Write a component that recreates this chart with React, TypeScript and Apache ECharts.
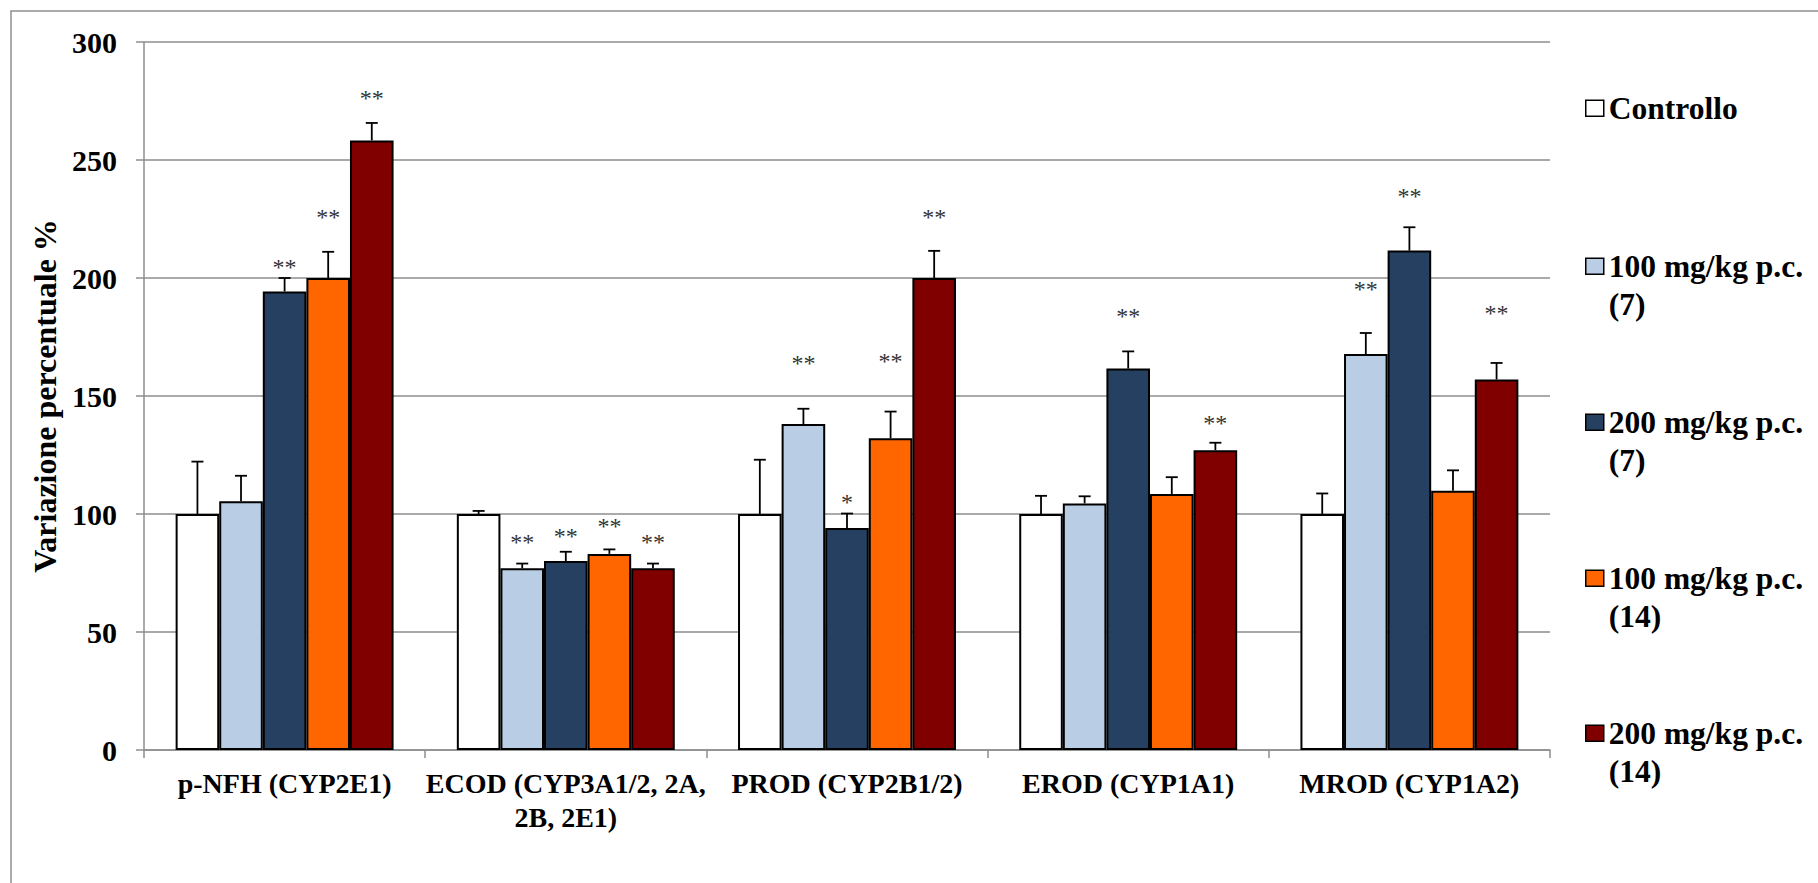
import React, { useEffect, useRef } from 'react';
import * as echarts from 'echarts';

const categories = [
  'p-NFH (CYP2E1)',
  'ECOD (CYP3A1/2, 2A,\n2B, 2E1)',
  'PROD (CYP2B1/2)',
  'EROD (CYP1A1)',
  'MROD (CYP1A2)',
];

const seriesNames = [
  'Controllo',
  '100 mg/kg p.c.\n(7)',
  '200 mg/kg p.c.\n(7)',
  '100 mg/kg p.c.\n(14)',
  '200 mg/kg p.c.\n(14)',
];
const seriesColors = ['#FFFFFF', '#B9CDE5', '#254061', '#FF6600', '#800000'];

const controllo = [100, 100, 100, 100, 100];
const dose100d7 = [105.4, 77, 138.1, 104.5, 167.8];
const dose200d7 = [194.3, 80.1, 94.1, 161.6, 211.6];
const dose100d14 = [200, 83.1, 132.1, 108.5, 109.8];
const dose200d14 = [258.3, 77, 200, 127, 157];

const errControllo = [22.2, 1.3, 23, 7.7, 8.7];
const err100d7 = [10.8, 2, 6.5, 3, 8.9];
const err200d7 = [5.7, 3.9, 6.1, 7.3, 9.9];
const err100d14 = [11.1, 1.9, 11.3, 7.1, 8.7];
const err200d14 = [7.4, 2, 11.5, 3.2, 7];

// significance marks: category index, series index, mark, height (in % units)
const sigCategory = [0, 0, 0, 1, 1, 1, 1, 2, 2, 2, 2, 3, 3, 4, 4, 4];
const sigSeries = [2, 3, 4, 1, 2, 3, 4, 1, 2, 3, 4, 2, 4, 1, 2, 4];
const sigText = ['**', '**', '**', '**', '**', '**', '**', '**', '*', '**', '**', '**', '**', '**', '**', '**'];
const sigLevel = [206.5, 227.7, 278, 89.8, 92.2, 96.4, 90, 165.7, 106.8, 166.7, 227.7, 185.8, 140.2, 196.9, 236.6, 187];

const yMin = 0;
const yMax = 300;
const yInterval = 50;

const values = [controllo, dose100d7, dose200d7, dose100d14, dose200d14];
const errors = [errControllo, err100d7, err200d7, err100d14, err200d14];

const CAT_GAP = 0.225;
const FONT = "'Liberation Serif', 'Times New Roman', Times, serif";
const GRID_GRAY = '#8e8e8e';

// legend placement (icon-centre y for each entry)
const legendIconY = [105, 263, 419, 575, 730];
const LEGEND_FONT = 31.5;
const LEGEND_LINE = 38;

export default function App() {
  const ref = useRef<HTMLDivElement>(null);

  useEffect(() => {
    if (!ref.current) return;
    const chart = echarts.init(ref.current, null, { renderer: 'svg' });

    const barSeries = seriesNames.map((name, s) => ({
      name,
      type: 'bar',
      data: values[s],
      barGap: '0%',
      barCategoryGap: `${CAT_GAP * 100}%`,
      itemStyle: { color: seriesColors[s], borderColor: '#000', borderWidth: 2 },
      z: 2,
    }));

    const errData: number[][] = [];
    values.forEach((vals, s) => {
      vals.forEach((v, c) => {
        errData.push([c, s, v, v + errors[s][c]]);
      });
    });

    const sigData = sigCategory.map((c, i) => [c, sigSeries[i], sigLevel[i]]);

    const barCenter = (api: any, cat: number, s: number) => {
      const band = api.size([1, 0])[0];
      const barW = (band * (1 - CAT_GAP)) / seriesNames.length;
      return api.coord([cat, 0])[0] + (s - (seriesNames.length - 1) / 2) * barW;
    };

    const legends = seriesNames.map((name, i) => {
      const twoLine = name.includes('\n');
      const half = LEGEND_FONT / 2;
      return {
        data: [name],
        orient: 'vertical',
        left: 1585,
        top: twoLine ? legendIconY[i] - LEGEND_LINE - half : legendIconY[i] - half,
        padding: 0,
        itemWidth: 18,
        itemHeight: 16,
        icon: 'rect',
        selectedMode: false,
        // leading blank line keeps the icon level with the first text line
        formatter: (n: string) => (n.includes('\n') ? '\n' + n : n),
        itemStyle: { borderColor: '#000', borderWidth: 1.5 },
        textStyle: {
          fontFamily: FONT,
          fontWeight: 'bold',
          fontSize: LEGEND_FONT,
          lineHeight: LEGEND_LINE,
          color: '#000',
        },
      };
    });

    chart.setOption({
      animation: false,
      backgroundColor: '#fff',
      grid: { left: 144, right: 268, top: 42, bottom: 133, containLabel: false },
      legend: legends,
      graphic: [
        {
          type: 'rect',
          silent: true,
          z: -10,
          shape: { x: 11, y: 11, width: 2400, height: 1400 },
          style: { fill: 'none', stroke: GRID_GRAY, lineWidth: 1.5 },
        },
      ],
      xAxis: {
        type: 'category',
        data: categories,
        axisLine: { show: true, lineStyle: { color: GRID_GRAY, width: 1.5 } },
        axisTick: { show: true, length: 8, interval: 0, lineStyle: { color: GRID_GRAY, width: 1.5 } },
        axisLabel: {
          interval: 0,
          margin: 16,
          fontFamily: FONT,
          fontWeight: 'bold',
          fontSize: 28,
          lineHeight: 34,
          color: '#000',
        },
      },
      yAxis: {
        type: 'value',
        min: yMin,
        max: yMax,
        interval: yInterval,
        name: 'Variazione percentuale %',
        nameLocation: 'middle',
        nameRotate: 90,
        nameGap: 83,
        nameTextStyle: { fontFamily: FONT, fontWeight: 'bold', fontSize: 32, color: '#000' },
        axisLine: { show: true, lineStyle: { color: GRID_GRAY, width: 1.5 } },
        axisTick: { show: true, length: 8, lineStyle: { color: GRID_GRAY, width: 1.5 } },
        splitLine: { show: true, lineStyle: { color: GRID_GRAY, width: 1.5 } },
        axisLabel: {
          margin: 27,
          fontFamily: FONT,
          fontWeight: 'bold',
          fontSize: 30,
          color: '#000',
        },
      },
      series: [
        ...barSeries,
        {
          type: 'custom',
          name: 'errori',
          data: errData,
          encode: { x: 0, y: 3 },
          z: 5,
          clip: false,
          renderItem: (params: any, api: any) => {
            const cat = api.value(0);
            const s = api.value(1);
            const cx = barCenter(api, cat, s);
            const yb = api.coord([cat, api.value(2)])[1];
            const yt = api.coord([cat, api.value(3)])[1];
            return {
              type: 'group',
              children: [
                { type: 'line', shape: { x1: cx, y1: yb, x2: cx, y2: yt }, style: { stroke: '#000', lineWidth: 1.8 } },
                { type: 'line', shape: { x1: cx - 6, y1: yt, x2: cx + 6, y2: yt }, style: { stroke: '#000', lineWidth: 1.8 } },
              ],
            };
          },
        },
        {
          type: 'custom',
          name: 'significativita',
          data: sigData,
          encode: { x: 0, y: 2 },
          z: 6,
          clip: false,
          renderItem: (params: any, api: any) => {
            const cat = api.value(0);
            const s = api.value(1);
            const cx = barCenter(api, cat, s);
            const y = api.coord([cat, api.value(2)])[1];
            return {
              type: 'text',
              x: cx,
              y: y + 4,
              style: {
                text: sigText[params.dataIndex],
                fontFamily: FONT,
                fontSize: 24,
                fill: '#333',
                align: 'center',
                verticalAlign: 'middle',
              },
            };
          },
        },
      ],
    });

    return () => chart.dispose();
  }, []);

  return (
    <div
      ref={ref}
      style={{ position: 'absolute', left: 0, top: 0, width: '1818px', height: '883px' }}
    />
  );
}
